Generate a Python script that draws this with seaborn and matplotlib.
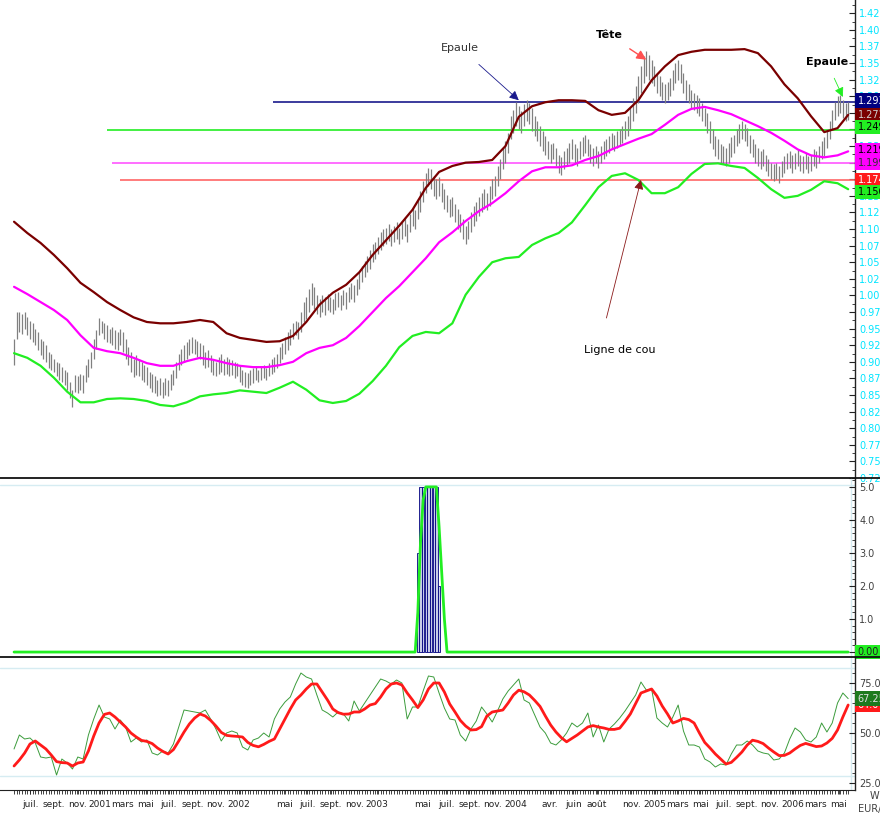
import pandas as pd
import numpy as np
import matplotlib
matplotlib.use('Agg')
import matplotlib.pyplot as plt
import matplotlib.dates as mdates
import matplotlib.transforms as mtransforms
from matplotlib.lines import Line2D
from matplotlib.ticker import FixedLocator, MultipleLocator, FuncFormatter
import seaborn as sns

# weekly EUR/USD bars, first week ending 2000-05-19
start = '2000-05-19'
lo = [.895, .935, .945, .942, .950, .940, .935, .930, .925, .918,
      .910, .905, .900, .890, .888, .885, .878, .873, .870, .865,
      .858, .845, .832, .855, .853, .858, .853, .870, .877, .890,
      .905, .920, .940, .943, .935, .930, .928, .925, .920, .918,
      .925, .915, .905, .895, .885, .877, .880, .878, .872, .870,
      .865, .860, .855, .853, .848, .850, .845, .850, .848, .858,
      .865, .875, .888, .895, .900, .905, .910, .913, .912, .908,
      .905, .895, .890, .892, .885, .880, .878, .882, .885, .880,
      .882, .878, .880, .875, .878, .870, .865, .862, .860, .865,
      .868, .872, .870, .873, .875, .872, .878, .882, .885, .890,
      .898, .905, .912, .918, .925, .935, .940, .935, .945, .960,
      .965, .975, .985, .980, .972, .968, .975, .970, .978, .975,
      .972, .978, .982, .978, .985, .980, .990, .995, .990, 1.000,
      1.010, 1.020, 1.028, 1.035, 1.040, 1.050, 1.055, 1.062, 1.068, 1.075,
      1.078, 1.082, 1.075, 1.080, 1.085, 1.078, 1.085, 1.090, 1.080, 1.095,
      1.105, 1.100, 1.115, 1.125, 1.140, 1.155, 1.165, 1.160, 1.150, 1.145,
      1.150, 1.140, 1.130, 1.125, 1.118, 1.120, 1.110, 1.100, 1.095, 1.085,
      1.078, 1.085, 1.095, 1.105, 1.112, 1.120, 1.125, 1.130, 1.128, 1.135,
      1.145, 1.150, 1.165, 1.175, 1.190, 1.200, 1.215, 1.235, 1.245, 1.255,
      1.250, 1.245, 1.255, 1.262, 1.258, 1.248, 1.240, 1.232, 1.225, 1.218,
      1.212, 1.205, 1.200, 1.205, 1.195, 1.185, 1.182, 1.190, 1.195, 1.200,
      1.205, 1.200, 1.195, 1.205, 1.210, 1.215, 1.210, 1.200, 1.195, 1.200,
      1.192, 1.200, 1.205, 1.210, 1.215, 1.222, 1.218, 1.222, 1.225, 1.230,
      1.235, 1.240, 1.250, 1.262, 1.275, 1.290, 1.305, 1.320, 1.330, 1.325,
      1.320, 1.315, 1.305, 1.300, 1.295, 1.290, 1.295, 1.300, 1.310, 1.320,
      1.325, 1.320, 1.305, 1.295, 1.290, 1.282, 1.280, 1.275, 1.270, 1.262,
      1.255, 1.245, 1.230, 1.220, 1.210, 1.205, 1.200, 1.198, 1.195, 1.200,
      1.208, 1.215, 1.225, 1.230, 1.235, 1.232, 1.225, 1.215, 1.208, 1.200,
      1.195, 1.190, 1.195, 1.188, 1.180, 1.175, 1.172, 1.175, 1.170, 1.178,
      1.185, 1.190, 1.192, 1.185, 1.190, 1.195, 1.188, 1.185, 1.190, 1.185,
      1.188, 1.195, 1.192, 1.200, 1.205, 1.210, 1.222, 1.235, 1.250, 1.265,
      1.270, 1.275, 1.268, 1.262, 1.265]
hi = [.935, .975, .975, .972, .975, .968, .962, .958, .950, .945,
      .935, .932, .925, .915, .912, .905, .900, .898, .892, .888,
      .885, .870, .858, .880, .878, .882, .880, .895, .905, .915,
      .935, .948, .966, .962, .958, .955, .950, .952, .948, .945,
      .950, .945, .935, .922, .915, .905, .910, .905, .900, .895,
      .892, .885, .882, .878, .872, .875, .870, .876, .872, .882,
      .888, .900, .912, .920, .925, .930, .935, .937, .935, .932,
      .928, .925, .915, .918, .910, .905, .900, .908, .912, .905,
      .908, .905, .902, .900, .898, .893, .888, .885, .883, .888,
      .890, .892, .888, .893, .895, .890, .898, .905, .907, .912,
      .922, .928, .938, .945, .950, .958, .962, .960, .975, .990,
      .998, 1.010, 1.018, 1.012, 1.000, .995, 1.000, .998, 1.002, .998,
      .995, 1.003, 1.005, 1.000, 1.008, 1.005, 1.012, 1.018, 1.015, 1.025,
      1.035, 1.045, 1.052, 1.060, 1.068, 1.078, 1.080, 1.088, 1.095, 1.100,
      1.102, 1.108, 1.100, 1.105, 1.110, 1.102, 1.112, 1.118, 1.108, 1.122,
      1.132, 1.128, 1.145, 1.158, 1.172, 1.185, 1.192, 1.190, 1.180, 1.175,
      1.178, 1.170, 1.160, 1.152, 1.145, 1.148, 1.138, 1.130, 1.122, 1.115,
      1.105, 1.112, 1.125, 1.135, 1.140, 1.148, 1.155, 1.160, 1.155, 1.165,
      1.175, 1.180, 1.195, 1.205, 1.222, 1.232, 1.245, 1.270, 1.280, 1.292,
      1.285, 1.278, 1.288, 1.294, 1.290, 1.282, 1.270, 1.262, 1.255, 1.248,
      1.240, 1.232, 1.228, 1.230, 1.222, 1.212, 1.208, 1.218, 1.222, 1.230,
      1.235, 1.228, 1.222, 1.232, 1.238, 1.242, 1.236, 1.228, 1.222, 1.225,
      1.218, 1.225, 1.232, 1.236, 1.240, 1.245, 1.242, 1.248, 1.250, 1.255,
      1.262, 1.270, 1.282, 1.298, 1.315, 1.330, 1.345, 1.360, 1.368, 1.362,
      1.355, 1.345, 1.335, 1.330, 1.322, 1.318, 1.322, 1.328, 1.340, 1.350,
      1.355, 1.348, 1.335, 1.325, 1.318, 1.310, 1.305, 1.302, 1.298, 1.290,
      1.282, 1.275, 1.262, 1.250, 1.240, 1.235, 1.228, 1.225, 1.222, 1.230,
      1.238, 1.242, 1.250, 1.258, 1.262, 1.258, 1.252, 1.242, 1.235, 1.228,
      1.222, 1.218, 1.220, 1.212, 1.205, 1.200, 1.198, 1.200, 1.195, 1.202,
      1.210, 1.215, 1.218, 1.212, 1.215, 1.220, 1.212, 1.210, 1.215, 1.210,
      1.212, 1.220, 1.218, 1.225, 1.232, 1.238, 1.250, 1.262, 1.280, 1.292,
      1.300, 1.302, 1.295, 1.290, 1.292]

# bands, read every 5 weeks (plus the last week)
band_idx = list(range(0, 311, 5)) + [314]
upper = [1.111, 1.094, 1.079, 1.061, 1.041, 1.019, 1.005, 0.99, 0.978, 0.967,
         0.96, 0.958, 0.958, 0.96, 0.963, 0.96, 0.943, 0.936, 0.933, 0.93,
         0.931, 0.939, 0.96, 0.986, 1.004, 1.016, 1.035, 1.061, 1.083, 1.105,
         1.129, 1.162, 1.186, 1.195, 1.2, 1.201, 1.204, 1.225, 1.269, 1.285,
         1.291, 1.294, 1.294, 1.293, 1.279, 1.272, 1.275, 1.294, 1.324, 1.345,
         1.362, 1.367, 1.37, 1.37, 1.37, 1.371, 1.365, 1.345, 1.318, 1.297,
         1.27, 1.246, 1.252, 1.272]
middle = [1.013, 1.002, 0.99, 0.978, 0.963, 0.94, 0.921, 0.916, 0.913, 0.906,
          0.898, 0.894, 0.894, 0.901, 0.906, 0.903, 0.898, 0.894, 0.892, 0.892,
          0.895, 0.9, 0.913, 0.921, 0.925, 0.936, 0.954, 0.975, 0.996, 1.014,
          1.035, 1.056, 1.08, 1.095, 1.112, 1.127, 1.139, 1.154, 1.172, 1.187,
          1.193, 1.193, 1.196, 1.204, 1.21, 1.22, 1.228, 1.236, 1.243, 1.257,
          1.272, 1.281, 1.284, 1.279, 1.273, 1.264, 1.255, 1.245, 1.233, 1.22,
          1.211, 1.208, 1.211, 1.217]
lower = [0.913, 0.906, 0.894, 0.876, 0.855, 0.839, 0.839, 0.844, 0.845, 0.844,
         0.841, 0.835, 0.833, 0.839, 0.848, 0.851, 0.853, 0.857, 0.855, 0.853,
         0.861, 0.87, 0.858, 0.842, 0.838, 0.841, 0.852, 0.871, 0.894, 0.922,
         0.939, 0.945, 0.943, 0.958, 1.001, 1.028, 1.05, 1.056, 1.058, 1.076,
         1.086, 1.094, 1.11, 1.136, 1.163, 1.18, 1.184, 1.174, 1.154, 1.154,
         1.163, 1.183, 1.198, 1.199, 1.195, 1.192, 1.177, 1.16, 1.147, 1.15,
         1.159, 1.172, 1.169, 1.16]

# horizontal levels drawn by hand on the chart
levels = [1.291, 1.249, 1.199, 1.174]
level_from = ['2002-04-01', '2001-01-19', '2001-02-01', '2001-02-22']
level_colors = ['#1a1a8c', '#22ee22', '#ff55ff', '#ff6666']

# right-hand value tags
tag_vals = [1.2935, 1.2722, 1.2542, 1.2191, 1.1991, 1.1741, 1.1561]
tag_text = ['1.2935', '1.2722', '1.2492', '1.2191', '1.1991', '1.1741', '1.1561']
tag_face = ['#000080', '#7a0000', '#22ee22', '#ff00ff', '#ff00ff', '#ff1a1a', '#22ee22']
tag_font = ['white', '#d0d0d0', 'black', 'black', '#303030', 'white', 'black']

# middle panel: signal histogram and line
alert_idx = [152, 153, 154, 155, 156, 157, 158, 159, 160]
alert_vals = [3, 5, 5, 5, 5, 5, 5, 5, 2]
sig_idx = [0, 151, 152, 153, 154, 155, 159, 160, 161, 162, 163, 314]
sig_vals = [0, 0, 1.2, 3.3, 4.6, 5, 5, 3.8, 2.4, 1.0, 0, 0]

# bottom panel: oscillator (thin) and its average (thick), every 2 weeks
osc_idx = list(range(0, 315, 2))
osc = [42, 49, 47, 47.5, 45, 38, 37.5, 38, 29, 37,
       35, 32, 38, 37, 49, 57, 64, 58, 57, 52,
       56.5, 53, 45.5, 47.5, 45.5, 46.5, 40, 39, 41, 40,
       44.5, 53, 61.5, 61, 60.5, 60, 61.5, 57, 52, 46,
       50, 51, 50, 43, 41.5, 46.5, 47.5, 50, 48, 57,
       62, 65.5, 68, 74.5, 80, 78, 77, 69, 61.5, 60,
       58, 60.5, 59.5, 56, 66, 61, 65, 69, 73, 77,
       76, 74.5, 76.5, 75, 57, 63, 63, 71, 78.5, 78,
       70, 62.5, 57, 56.5, 49, 46, 52, 56, 63, 59.5,
       55.5, 61, 67, 71, 74, 77, 66.5, 65, 59, 53,
       50, 45, 44, 46.5, 50, 55, 53, 55, 60, 48,
       54, 45.5, 52, 54.5, 57.5, 61, 65, 69, 75.5, 71.5,
       72, 57.5, 55, 53, 58, 64, 51, 44, 44, 43,
       37, 35.5, 33, 34.5, 34, 39.5, 44, 44, 46, 44,
       41, 40, 39.5, 36.5, 37, 40, 47, 52.5, 50.5, 46.5,
       45.5, 48, 55, 50.5, 55, 65, 70, 67.2]
osc_avg = [33.5, 36.5, 40, 44.5, 46, 44, 42, 39, 35.7, 35.2,
           35, 33.5, 35, 35.5, 41, 48.5, 55, 59.3, 60, 58,
           55.5, 53, 50, 48, 46.3, 45.8, 44.7, 42.5, 40.8, 39.5,
           41.7, 46, 50.5, 54.5, 57.5, 59.5, 58.5, 56.3, 53.5, 50.3,
           48.8, 48.5, 48.3, 48, 45.3, 43.8, 43.1, 44.3, 45.8, 47,
           52, 57, 62, 66.5, 69, 72, 74.5, 74.5, 70.5, 66.5,
           62, 60.2, 59.4, 59.5, 60.5, 60.5, 62, 64, 64.7, 68,
           72, 74.5, 75, 74, 70, 66.5, 62.7, 66.5, 72, 75,
           75, 70.5, 64.5, 60.5, 56.3, 53.5, 51.5, 51.7, 53.2, 58.5,
           60.5, 61, 61.5, 65, 69, 71.4, 70.6, 69, 66.3, 63.3,
           58.5, 54, 50.5, 47.7, 45.6, 47.3, 49, 51, 53, 53.7,
           53, 52.5, 51.8, 51.8, 52.4, 55.8, 59.5, 64.8, 70, 71,
           72, 68.5, 63.5, 59.5, 55, 56, 57.3, 56.7, 55, 50,
           45.3, 42.5, 39.5, 37, 34.5, 35.3, 37.8, 40.5, 44, 46.4,
           45.8, 44.7, 42.5, 40.5, 38.7, 38.8, 40, 42, 43.8, 44.8,
           44, 43.2, 43.5, 45, 47.3, 51.5, 58, 64]

tick_dates = ['2000-07-01', '2000-09-01', '2000-11-01', '2001-01-01', '2001-03-01',
              '2001-05-01', '2001-07-01', '2001-09-01', '2001-11-01', '2002-01-01',
              '2002-05-01', '2002-07-01', '2002-09-01', '2002-11-01', '2003-01-01',
              '2003-05-01', '2003-07-01', '2003-09-01', '2003-11-01', '2004-01-01',
              '2004-04-01', '2004-06-01', '2004-08-01', '2004-11-01', '2005-01-01',
              '2005-03-01', '2005-05-01', '2005-07-01', '2005-09-01', '2005-11-01',
              '2006-01-01', '2006-03-01', '2006-05-01']
tick_names = ['juil.', 'sept.', 'nov.', '2001', 'mars', 'mai', 'juil.', 'sept.', 'nov.', '2002',
              'mai', 'juil.', 'sept.', 'nov.', '2003', 'mai', 'juil.', 'sept.', 'nov.', '2004',
              'avr.', 'juin', 'août', 'nov.', '2005', 'mars', 'mai', 'juil.', 'sept.', 'nov.',
              '2006', 'mars', 'mai']

sns.set_style('white')
plt.rcParams['font.family'] = ['Liberation Sans Narrow', 'DejaVu Sans']

dates = pd.date_range(start, periods=len(hi), freq='7D')
bands = pd.DataFrame({'date': dates[band_idx], 'upper': upper, 'middle': middle, 'lower': lower})
oscdf = pd.DataFrame({'date': dates[osc_idx], 'osc': osc, 'avg': osc_avg})

W, H = 880, 813
fig = plt.figure(figsize=(8.8, 8.13), dpi=100)
axw = 855 / W
ax1 = fig.add_axes([0, 1 - 478 / H, axw, 478 / H])
ax2 = fig.add_axes([0, 1 - 657 / H, axw, 179 / H], sharex=ax1)
ax3 = fig.add_axes([0, 1 - 790 / H, axw, 133 / H], sharex=ax1)

x0 = pd.Timestamp(start) - pd.Timedelta(days=37)
x1 = pd.Timestamp(start) + pd.Timedelta(days=2216)

# --- price panel
ax1.vlines(dates, lo, hi, color='#808080', lw=0.9, zorder=2)
for val, frm, col in zip(levels, level_from, level_colors):
    ax1.hlines(val, pd.Timestamp(frm), x1, color=col, lw=1.2, zorder=1)
sns.lineplot(data=bands, x='date', y='upper', ax=ax1, color='#7a0000', lw=1.6, zorder=3)
sns.lineplot(data=bands, x='date', y='middle', ax=ax1, color='#ff00ff', lw=1.6, zorder=3)
sns.lineplot(data=bands, x='date', y='lower', ax=ax1, color='#22ee22', lw=1.6, zorder=3)
ax1.set_ylim(0.725, 1.445)

ann = dict(fontsize=8, ha='center', va='center')
ax1.annotate('Epaule', xy=(dates[190], 1.294), xytext=(dates[168], 1.373),
             arrowprops=dict(arrowstyle='-|>', color='#1a1a8c', lw=0.6, mutation_scale=14,
                             shrinkA=9, shrinkB=0), color='#333333', **ann)
ax1.annotate('Tête', xy=(dates[238], 1.355), xytext=(dates[224], 1.392),
             arrowprops=dict(arrowstyle='-|>', color='#ff5050', lw=1.0, mutation_scale=14,
                             shrinkA=7, shrinkB=0), fontweight='bold', color='black', **ann)
ax1.annotate('Epaule', xy=(dates[312], 1.299), xytext=(dates[306], 1.351),
             arrowprops=dict(arrowstyle='-|>', color='#22ee22', lw=0.6, mutation_scale=14,
                             shrinkA=6, shrinkB=0), fontweight='bold', color='black', **ann)
ax1.text(dates[228], 0.918, 'Ligne de cou', color='black', **ann)
ax1.annotate('', xy=(dates[236], 1.174), xytext=(dates[223], 0.966),
             arrowprops=dict(arrowstyle='-|>', color='#8b1a1a', lw=0.6, mutation_scale=14,
                             shrinkA=0, shrinkB=0))

# --- signal panel
ax2.bar(dates[alert_idx], alert_vals, width=6.5, color='#c8cce8', edgecolor='#000080', lw=0.6, zorder=2)
sns.lineplot(x=dates[sig_idx], y=sig_vals, ax=ax2, color='#22ee22', lw=2.0, zorder=3)
ax2.axhline(5.05, color='#d6ecf2', lw=1, zorder=0)
ax2.axvline(x1 - pd.Timedelta(days=10), color='#d6ecf2', lw=1, zorder=0)
ax2.set_ylim(-0.15, 5.27)

# --- oscillator panel
sns.lineplot(data=oscdf, x='date', y='osc', ax=ax3, color='#3c9c3c', lw=0.7, zorder=2)
sns.lineplot(data=oscdf, x='date', y='avg', ax=ax3, color='#ff1a1a', lw=2.0, zorder=3)
ax3.axhline(82.5, color='#d6ecf2', lw=1, zorder=0)
ax3.axhline(28.5, color='#d6ecf2', lw=1, zorder=0)
ax3.axvline(x1 - pd.Timedelta(days=10), color='#d6ecf2', lw=1, zorder=0)
ax3.set_ylim(21.5, 88)

# --- axes styling
for ax in (ax1, ax2, ax3):
    ax.set_xlim(x0, x1)
    ax.set_xlabel('')
    ax.set_ylabel('')
    ax.yaxis.tick_right()
    ax.patch.set_alpha(0)
    for s in ('left', 'top', 'bottom'):
        ax.spines[s].set_visible(False)
    ax.spines['right'].set_color('#222222')
    ax.spines['right'].set_linewidth(1.0)
    ax.tick_params(axis='y', which='both', direction='in', right=True, colors='#222222',
                   labelsize=7, pad=3)
    ax.tick_params(axis='y', which='major', length=4)
    ax.tick_params(axis='y', which='minor', length=2)

ax1.set_yticks(np.arange(0.725, 1.4251, 0.025))
ax1.yaxis.set_minor_locator(MultipleLocator(0.0125))
ax1.yaxis.set_major_formatter(FuncFormatter(lambda v, p: f'{v:.3f}'))
ax1.tick_params(axis='y', labelcolor='#00e5ff')

ax2.set_yticks([0, 1, 2, 3, 4, 5])
ax2.yaxis.set_minor_locator(MultipleLocator(0.2))
ax2.yaxis.set_major_formatter(FuncFormatter(lambda v, p: f'{v:.1f}'))
ax2.tick_params(axis='y', labelcolor='#404040')

ax3.set_yticks([25, 50, 75])
ax3.yaxis.set_minor_locator(MultipleLocator(5))
ax3.yaxis.set_major_formatter(FuncFormatter(lambda v, p: f'{v:.1f}'))
ax3.tick_params(axis='y', labelcolor='#404040')

for ax in (ax1, ax2):
    ax.tick_params(axis='x', which='both', bottom=False, labelbottom=False)

ax3.spines['bottom'].set_visible(True)
ax3.spines['bottom'].set_color('#222222')
ax3.set_xticks(mdates.date2num(pd.to_datetime(tick_dates)))
ax3.set_xticklabels(tick_names)
ax3.xaxis.set_minor_locator(FixedLocator(mdates.date2num(dates)))
ax3.tick_params(axis='x', which='both', direction='out', length=3, width=0.6, colors='#222222',
                labelsize=6.5, pad=4, bottom=True)

# value tags at the right edge
blend = mtransforms.blended_transform_factory(ax1.transAxes, ax1.transData)
for v, t, fc, tc in zip(tag_vals, tag_text, tag_face, tag_font):
    ax1.text(1.003, v, t, transform=blend, ha='left', va='center', fontsize=7, color=tc,
             bbox=dict(boxstyle='square,pad=0.22', fc=fc, ec='none'), clip_on=False, zorder=10)
b2 = mtransforms.blended_transform_factory(ax2.transAxes, ax2.transData)
ax2.text(1.003, 0, '0.00', transform=b2, ha='left', va='center', fontsize=7, color='#202020',
         bbox=dict(boxstyle='square,pad=0.22', fc='#22ee22', ec='none'), clip_on=False, zorder=10)
b3 = mtransforms.blended_transform_factory(ax3.transAxes, ax3.transData)
ax3.text(1.003, osc_avg[-1], '64.0', transform=b3, ha='left', va='center', fontsize=7, color='white',
         bbox=dict(boxstyle='square,pad=0.22', fc='#ff1a1a', ec='none'), clip_on=False, zorder=10)
ax3.text(1.003, osc[-1], '67.25', transform=b3, ha='left', va='center', fontsize=7, color='#e0e0e0',
         bbox=dict(boxstyle='square,pad=0.22', fc='#1e7a1e', ec='none'), clip_on=False, zorder=11)

# panel separators across the full width
for yp in (478, 657):
    fig.add_artist(Line2D([0, 1], [1 - yp / H, 1 - yp / H], color='#111111', lw=1.3))

fig.text(870 / W, 1 - 796 / H, 'W', fontsize=7, color='#404040', va='center')
fig.text(858 / W, 1 - 809 / H, 'EUR/U', fontsize=7, color='#404040', va='center')

fig.savefig('out.png', dpi=100)
